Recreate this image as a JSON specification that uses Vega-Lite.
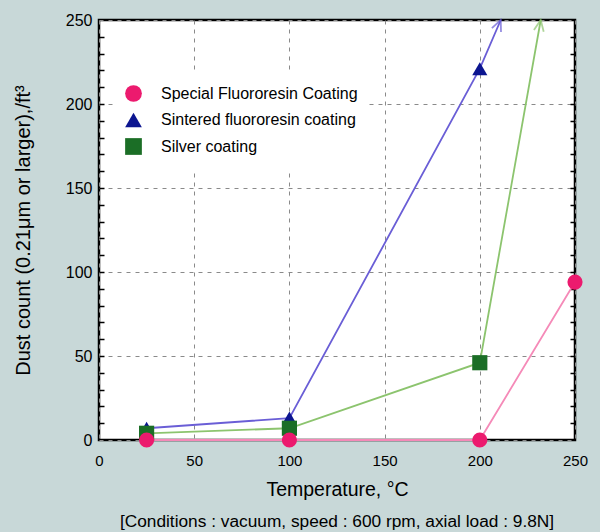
{
  "$schema": "https://vega.github.io/schema/vega-lite/v6.json",
  "width": 476,
  "height": 420,
  "autosize": "none",
  "padding": {"left": 99, "top": 20, "right": 25, "bottom": 92},
  "background": "#c8d8d8",
  "config": {
    "view": {"fill": "white", "stroke": "black", "strokeWidth": 2.5},
    "font": "Liberation Sans"
  },
  "title": {
    "text": "[Conditions : vacuum, speed : 600 rpm, axial load : 9.8N]",
    "orient": "bottom",
    "anchor": "middle",
    "font": "Liberation Sans",
    "fontSize": 17.3,
    "fontWeight": "normal",
    "color": "black",
    "offset": 14
  },
  "data": {
    "values": [
      {"series": "Sintered fluororesin coating", "temp": 25, "count": 7, "kind": "measured"},
      {"series": "Sintered fluororesin coating", "temp": 100, "count": 13, "kind": "measured"},
      {"series": "Sintered fluororesin coating", "temp": 200, "count": 221, "kind": "measured"},
      {"series": "Sintered fluororesin coating", "temp": 211, "count": 250, "kind": "tip"},
      {"series": "Silver coating", "temp": 25, "count": 4, "kind": "measured"},
      {"series": "Silver coating", "temp": 100, "count": 7, "kind": "measured"},
      {"series": "Silver coating", "temp": 200, "count": 46, "kind": "measured"},
      {"series": "Silver coating", "temp": 232, "count": 250, "kind": "tip"},
      {"series": "Special Fluororesin Coating", "temp": 25, "count": 0, "kind": "measured"},
      {"series": "Special Fluororesin Coating", "temp": 100, "count": 0, "kind": "measured"},
      {"series": "Special Fluororesin Coating", "temp": 200, "count": 0, "kind": "measured"},
      {"series": "Special Fluororesin Coating", "temp": 250, "count": 94, "kind": "measured"}
    ]
  },
  "resolve": {"axis": {"y": "independent"}},
  "layer": [
    {
      "mark": {"type": "line", "strokeWidth": 1.8},
      "encoding": {
        "x": {
          "field": "temp", "type": "quantitative",
          "scale": {"domain": [0, 250], "nice": false},
          "axis": {
            "values": [0, 50, 100, 150, 200, 250],
            "title": "Temperature, °C",
            "titleFont": "Liberation Sans", "titleFontSize": 19.5, "titleFontWeight": "normal", "titleColor": "black",
            "titlePadding": 12,
            "labelFont": "Liberation Sans", "labelFontSize": 15, "labelColor": "black", "labelPadding": 13,
            "labelFlush": false,
            "ticks": false, "domain": false,
            "grid": true, "gridDash": [4, 5], "gridColor": "#8a8a8a", "gridWidth": 1
          }
        },
        "y": {
          "field": "count", "type": "quantitative",
          "scale": {"domain": [0, 250], "nice": false},
          "axis": {
            "orient": "left",
            "values": [0, 50, 100, 150, 200, 250],
            "title": "Dust count (0.21μm or larger),/ft³",
            "titleFont": "Liberation Sans", "titleFontSize": 20, "titleFontWeight": "normal", "titleColor": "black",
            "titlePadding": 32,
            "labelFont": "Liberation Sans", "labelFontSize": 16, "labelColor": "black", "labelPadding": 7,
            "labelFlush": false,
            "ticks": false, "domain": false,
            "grid": true, "gridDash": [4, 5], "gridColor": "#8a8a8a", "gridWidth": 1
          }
        },
        "stroke": {
          "field": "series", "type": "nominal",
          "scale": {
            "domain": ["Sintered fluororesin coating", "Silver coating", "Special Fluororesin Coating"],
            "range": ["#6a5ed6", "#8cc46e", "#f58ab8"]
          },
          "legend": null
        },
        "order": {"field": "temp", "type": "quantitative"}
      }
    },
    {
      "transform": [{"filter": "datum.kind == 'tip' && datum.series == 'Sintered fluororesin coating'"}],
      "mark": {"type": "point", "shape": "M -0.45 1 L 0 0 L 0.45 1", "filled": false, "size": 484, "angle": 23, "strokeWidth": 1.8, "stroke": "#6a5ed6"},
      "encoding": {
        "x": {"field": "temp", "type": "quantitative"},
        "y": {
          "field": "count", "type": "quantitative",
          "axis": {
            "orient": "left",
            "values": [10, 20, 30, 40, 50, 60, 70, 80, 90, 100, 110, 120, 130, 140, 150, 160, 170, 180, 190, 200, 210, 220, 230, 240],
            "labels": false, "title": null, "grid": false, "domain": false,
            "ticks": true, "tickSize": -5, "tickColor": "black", "tickWidth": 1.5
          }
        }
      }
    },
    {
      "transform": [{"filter": "datum.kind == 'tip' && datum.series == 'Silver coating'"}],
      "mark": {"type": "point", "shape": "M -0.45 1 L 0 0 L 0.45 1", "filled": false, "size": 484, "angle": 10, "strokeWidth": 1.8, "stroke": "#8cc46e"},
      "encoding": {
        "x": {"field": "temp", "type": "quantitative"},
        "y": {
          "field": "count", "type": "quantitative",
          "axis": {
            "orient": "right",
            "values": [10, 20, 30, 40, 50, 60, 70, 80, 90, 100, 110, 120, 130, 140, 150, 160, 170, 180, 190, 200, 210, 220, 230, 240],
            "labels": false, "title": null, "grid": false, "domain": false,
            "ticks": true, "tickSize": -5, "tickColor": "black", "tickWidth": 1.5
          }
        }
      }
    },
    {
      "transform": [{"filter": "datum.kind == 'measured'"}],
      "mark": {"type": "point", "filled": true, "size": 230, "opacity": 1},
      "encoding": {
        "x": {"field": "temp", "type": "quantitative"},
        "y": {"field": "count", "type": "quantitative", "axis": null},
        "fill": {
          "field": "series", "type": "nominal",
          "scale": {
            "domain": ["Special Fluororesin Coating", "Sintered fluororesin coating", "Silver coating"],
            "range": ["#ec1a6e", "#0c1590", "#1b6e26"]
          },
          "legend": {
            "title": null, "orient": "none", "legendX": 14, "legendY": 53,
            "fillColor": "white", "padding": 11, "symbolSize": 280,
            "labelFont": "Liberation Sans", "labelFontSize": 16, "labelColor": "black",
            "labelOffset": 18, "rowPadding": 4.5, "labelLimit": 0
          }
        },
        "shape": {
          "field": "series", "type": "nominal",
          "scale": {
            "domain": ["Special Fluororesin Coating", "Sintered fluororesin coating", "Silver coating"],
            "range": ["circle", "triangle-up", "square"]
          },
          "legend": {
            "title": null, "orient": "none", "legendX": 14, "legendY": 53,
            "fillColor": "white", "padding": 11, "symbolSize": 280,
            "labelFont": "Liberation Sans", "labelFontSize": 16, "labelColor": "black",
            "labelOffset": 18, "rowPadding": 4.5, "labelLimit": 0
          }
        }
      }
    }
  ]
}
